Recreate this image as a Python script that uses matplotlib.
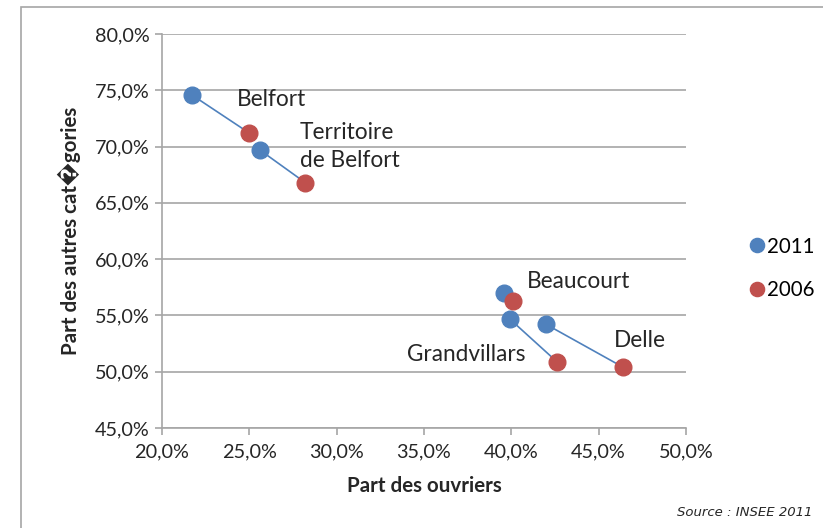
import matplotlib.pyplot as plt
from matplotlib.patches import Rectangle
from matplotlib.ticker import FuncFormatter

# part des ouvriers / part des autres catégories (%), 2011 et 2006
communes = ['Belfort', 'Territoire\nde Belfort', 'Beaucourt', 'Grandvillars', 'Delle']
ouvriers_2011 = [21.7, 25.6, 39.6, 39.9, 42.0]
autres_2011 = [74.6, 69.7, 57.0, 54.7, 54.2]
ouvriers_2006 = [25.0, 28.2, 40.1, 42.6, 46.4]
autres_2006 = [71.2, 66.8, 56.3, 50.9, 50.4]

bleu = '#4F81BD'
rouge = '#C0504D'
gris = '#A6A6A6'
texte = '#262626'

plt.rcParams['font.family'] = ['Lato', 'DejaVu Sans']

fig = plt.figure(figsize=(8.23, 5.28), dpi=100)
ax = fig.add_axes([0.1968, 0.1894, 0.6367, 0.7462])

# cadre du graphique
fig.patches.append(Rectangle((21 / 823, -0.1), 1.2, 1 - 7 / 528 + 0.1,
                             transform=fig.transFigure, fill=False,
                             edgecolor=gris, linewidth=1.2))

for x0, y0, x1, y1 in zip(ouvriers_2011, autres_2011, ouvriers_2006, autres_2006):
    ax.plot([x0, x1], [y0, y1], color=bleu, linewidth=1.2, zorder=2)

ax.plot(ouvriers_2011, autres_2011, 'o', color=bleu, markersize=12,
        linestyle='none', label='2011', zorder=3)
ax.plot(ouvriers_2006, autres_2006, 'o', color=rouge, markersize=12,
        linestyle='none', label='2006', zorder=3)

# étiquettes des communes
etiquettes = [
    ('Belfort', 24.3, 74.2, 'left'),
    ('Territoire\nde Belfort', 27.9, 70.0, 'left'),
    ('Beaucourt', 40.9, 58.0, 'left'),
    ('Grandvillars', 40.8, 51.5, 'right'),
    ('Delle', 45.85, 52.8, 'left'),
]
for nom, x, y, ha in etiquettes:
    ax.text(x, y, nom, ha=ha, va='center', fontsize=16.3, color=texte,
            linespacing=1.45)

ax.set_xlim(20, 50)
ax.set_ylim(45, 80)
ax.set_xticks(range(20, 51, 5))
ax.set_yticks(range(45, 81, 5))
fmt = FuncFormatter(lambda v, p: f'{v:.1f}%'.replace('.', ','))
ax.xaxis.set_major_formatter(fmt)
ax.yaxis.set_major_formatter(fmt)

ax.yaxis.grid(True, color=gris, linewidth=1.2)
ax.set_axisbelow(True)
for s in ['top', 'right']:
    ax.spines[s].set_visible(False)
for s in ['left', 'bottom']:
    ax.spines[s].set_color(gris)
    ax.spines[s].set_linewidth(1.2)
ax.tick_params(axis='both', colors=gris, labelcolor=texte, labelsize=14.3,
               length=5, width=1.2)
ax.tick_params(axis='x', pad=6)
ax.tick_params(axis='y', pad=4)

ax.set_xlabel('Part des ouvriers', fontsize=14.8, fontweight='bold',
              color=texte, labelpad=11)
ax.set_ylabel('Part des autres cat\ufffdgories', fontsize=14.8,
              fontweight='bold', color=texte, labelpad=10)

ax.legend(loc='center left', bbox_to_anchor=(746.5 / 823, 1 - 268.5 / 528),
          bbox_transform=fig.transFigure, frameon=False, borderpad=0,
          borderaxespad=0, fontsize=14.8, handletextpad=0.0,
          markerscale=0.85, labelspacing=1.15, handlelength=1.0)

fig.text(812 / 823, 1 - 513 / 528, 'Source : INSEE 2011', ha='right',
         va='center', fontsize=9.5, style='italic', color=texte,
         family=['DejaVu Sans'])

fig.savefig('out.png', dpi=100)
